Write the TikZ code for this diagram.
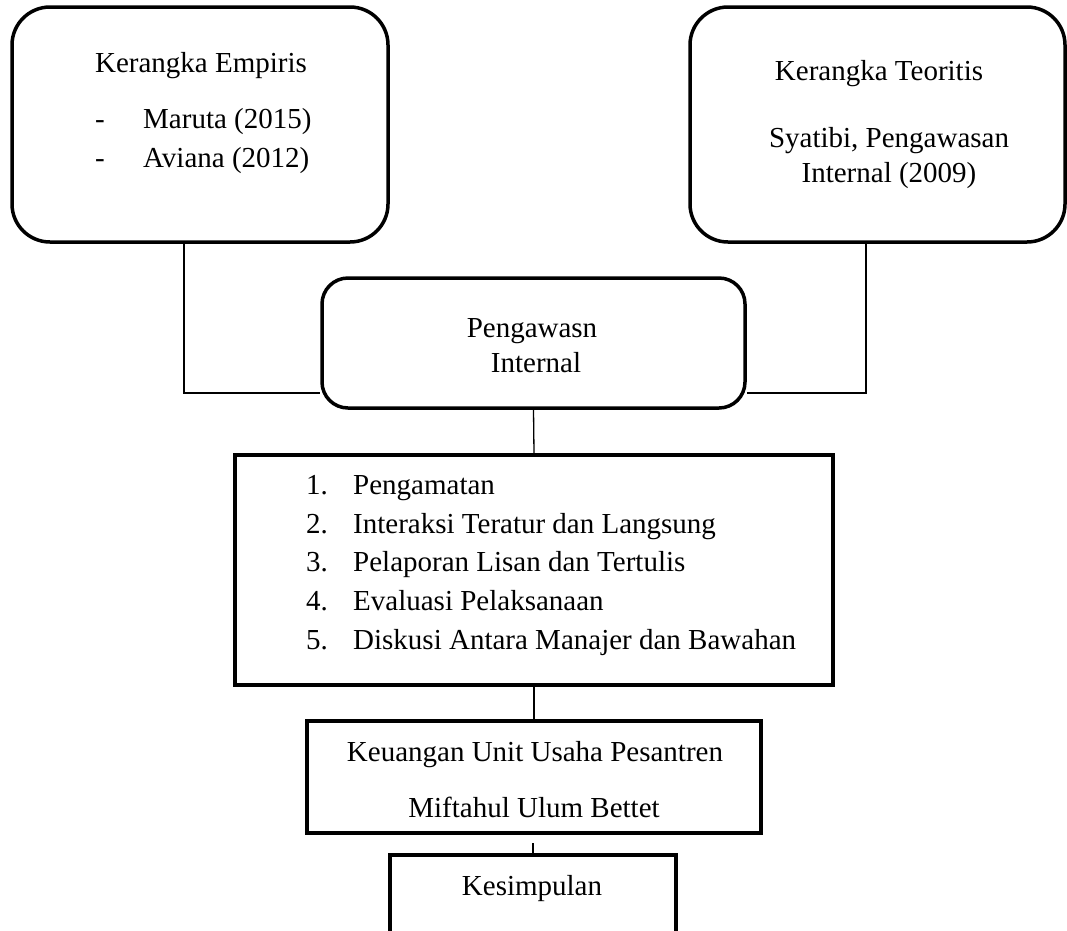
\documentclass[tikz,border=0pt]{standalone}
\usepackage{fontspec}
\setmainfont{Liberation Serif}
\begin{document}
\begin{tikzpicture}[x=1pt,y=-1pt,
  box/.style={draw=black,line width=3.5pt,minimum width=#1,inner sep=0pt},
  rbox/.style={box=#1,rounded corners=38pt},
  conn/.style={draw=black,line width=1.3pt},
  txt/.style={anchor=base,inner sep=0pt,font=\fontsize{29}{35}\selectfont},
  ltxt/.style={anchor=base west,inner sep=0pt,font=\fontsize{29}{35}\selectfont}]
\useasboundingbox (0,0) rectangle (1067,930);
\clip (0,0) rectangle (1067,930);
% boxes
\node[rbox=376pt,minimum height=235pt] (lbox) at (200,124.5) {};
\node[rbox=375pt,minimum height=235pt] (rbox) at (877.5,124.5) {};
\node[box=423pt,minimum height=130pt,rounded corners=26pt] (peng) at (533.5,343) {};
\node[box=598pt,minimum height=230pt] (list) at (534,570) {};
\node[box=454pt,minimum height=112pt] (keu) at (534,777) {};
\node[box=286pt,minimum height=110pt] (kes) at (533,910) {};
% texts
\node[txt] (t1) at (201,72) {Kerangka Empiris};
\node[ltxt] (t2a) at (95,128) {-};
\node[ltxt] (t2) at (143,128) {Maruta (2015)};
\node[ltxt] (t3a) at (95,167) {-};
\node[ltxt] (t3) at (143,167) {Aviana (2012)};
\node[txt] (t4) at (879,80) {Kerangka Teoritis};
\node[txt] (t5) at (889,147) {Syatibi, Pengawasan};
\node[txt] (t6) at (889,182) {Internal (2009)};
\node[txt] (t7) at (532,337) {Pengawasn};
\node[txt] (t8) at (536,372) {Internal};
\node[ltxt] (n1) at (306,494) {1.};
\node[ltxt] (l1) at (353,494) {Pengamatan};
\node[ltxt] (n2) at (306,533) {2.};
\node[ltxt] (l2) at (353,533) {Interaksi Teratur dan Langsung};
\node[ltxt] (n3) at (306,571) {3.};
\node[ltxt] (l3) at (353,571) {Pelaporan Lisan dan Tertulis};
\node[ltxt] (n4) at (306,610) {4.};
\node[ltxt] (l4) at (353,610) {Evaluasi Pelaksanaan};
\node[ltxt] (n5) at (306,649) {5.};
\node[ltxt] (l5) at (353,649) {Diskusi Antara Manajer dan Bawahan};
\node[txt] (k1) at (535,761) {Keuangan Unit Usaha Pesantren};
\node[txt] (k2) at (534,817) {Miftahul Ulum Bettet};
\node[txt] (k3) at (532,895) {Kesimpulan};
% connectors
\coordinate (lx) at (184,0);
\coordinate (rx) at (866,0);
\coordinate (hy) at (0,393);
\coordinate (kgap) at (533,843);
\draw[conn] (lbox.south -| lx) |- (peng.west |- hy);
\draw[conn] (rbox.south -| rx) |- (peng.east |- hy);
\draw[conn] (peng.south) -- (list.north);
\draw[conn] (list.south) -- (keu.north);
\draw[conn] (kgap) -- (kes.north);
\end{tikzpicture}
\end{document}
